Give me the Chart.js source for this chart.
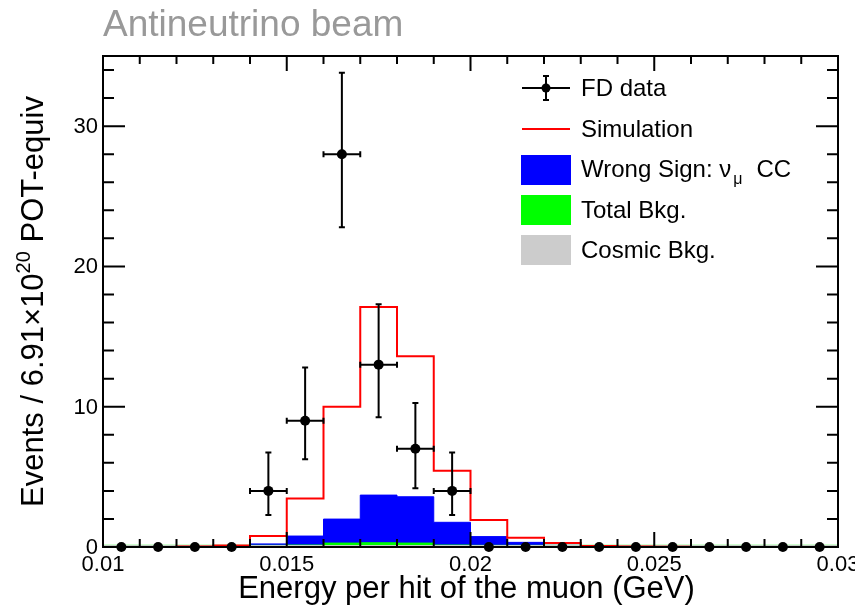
<!DOCTYPE html>
<html>
<head>
<meta charset="utf-8">
<title>Antineutrino beam - energy per hit of the muon</title>
<script src="https://cdn.jsdelivr.net/npm/chart.js@4.4.1/dist/chart.umd.min.js"></script>
<style>
  html, body { margin: 0; padding: 0; background: #ffffff; }
  #wrap { width: 855px; height: 607px; }
</style>
</head>
<body>
<div id="wrap"><canvas id="muonChart" width="855" height="607"></canvas></div>
<script>
// bins: 0.001 GeV wide, 0.01 -> 0.03
const binEdges = [0.010, 0.011, 0.012, 0.013, 0.014, 0.015, 0.016, 0.017, 0.018, 0.019, 0.020,
                  0.021, 0.022, 0.023, 0.024, 0.025, 0.026, 0.027, 0.028, 0.029, 0.030];
const binCenters = [0.0105, 0.0115, 0.0125, 0.0135, 0.0145, 0.0155, 0.0165, 0.0175, 0.0185, 0.0195,
                    0.0205, 0.0215, 0.0225, 0.0235, 0.0245, 0.0255, 0.0265, 0.0275, 0.0285, 0.0295];

// FD data with asymmetric errors
const fdData    = [0, 0, 0, 0, 4, 9, 28, 13, 7, 4, 0, 0, 0, 0, 0, 0, 0, 0, 0, 0];
const fdErrLow  = [0, 0, 0, 0, 1.72, 2.74, 5.2, 3.75, 2.82, 1.72, 0, 0, 0, 0, 0, 0, 0, 0, 0, 0];
const fdErrHigh = [0, 0, 0, 0, 2.74, 3.8, 5.8, 4.3, 3.27, 2.74, 0, 0, 0, 0, 0, 0, 0, 0, 0, 0];

// predictions per bin
const simulation = [0, 0, 0.03, 0.1, 0.78, 3.46, 10.0, 17.1, 13.6, 5.43, 1.92, 0.66, 0.28, 0.08, 0.03, 0.02, 0, 0, 0, 0];
const wrongSign  = [0, 0, 0, 0.03, 0.22, 0.78, 1.99, 3.7, 3.58, 1.76, 0.74, 0.33, 0.12, 0.04, 0.02, 0, 0, 0, 0, 0];
const totalBkg   = [0.12, 0.12, 0.12, 0.12, 0.12, 0.14, 0.28, 0.3, 0.28, 0.14, 0.12, 0.12, 0.12, 0.12, 0.12, 0.12, 0.12, 0.12, 0.12, 0.12];
const cosmicBkg  = [0.1, 0.1, 0.1, 0.1, 0.1, 0.1, 0.1, 0.1, 0.1, 0.1, 0.1, 0.1, 0.1, 0.1, 0.1, 0.1, 0.1, 0.1, 0.1, 0.1];

// axis ticks
const xTickValues = [0.01, 0.015, 0.02, 0.025, 0.03];
const xTickLabels = ["0.01", "0.015", "0.02", "0.025", "0.03"];
const yTickValues = [0, 10, 20, 30];
const yTickLabels = ["0", "10", "20", "30"];

const FONT = '"Liberation Sans", Arial, Helvetica, sans-serif';

function histPoints(values) {
  // one point per lower edge, plus the closing edge
  const pts = values.map((v, i) => ({ x: binEdges[i], y: v }));
  pts.push({ x: binEdges[binEdges.length - 1], y: values[values.length - 1] });
  return pts;
}

function histDataset(label, values, color, fill, width) {
  return {
    type: "line",
    label,
    data: histPoints(values),
    stepped: "before",
    borderColor: color,
    backgroundColor: color,
    borderWidth: width,
    fill: fill ? "origin" : false,
    pointRadius: 0,
    tension: 0
  };
}

const decorations = {
  id: "decorations",
  afterDatasetsDraw(chart) {
    const { ctx, chartArea: a, scales } = chart;
    const xs = scales.x, ys = scales.y;
    ctx.save();

    // data error bars
    ctx.strokeStyle = "#000";
    ctx.lineWidth = 2;
    fdData.forEach((v, i) => {
      if (v <= 0) return;
      const px = xs.getPixelForValue(binCenters[i]);
      const py = ys.getPixelForValue(v);
      const top = ys.getPixelForValue(v + fdErrHigh[i]);
      const bot = ys.getPixelForValue(v - fdErrLow[i]);
      const l = xs.getPixelForValue(binEdges[i]);
      const r = xs.getPixelForValue(binEdges[i + 1]);
      ctx.beginPath();
      ctx.moveTo(px, top); ctx.lineTo(px, bot);
      ctx.moveTo(px - 3, top); ctx.lineTo(px + 3, top);
      ctx.moveTo(px - 3, bot); ctx.lineTo(px + 3, bot);
      ctx.moveTo(l, py); ctx.lineTo(r, py);
      ctx.moveTo(l, py - 3); ctx.lineTo(l, py + 3);
      ctx.moveTo(r, py - 3); ctx.lineTo(r, py + 3);
      ctx.stroke();
    });

    // frame
    ctx.lineWidth = 2;
    ctx.strokeRect(a.left, a.top, a.right - a.left, a.bottom - a.top);

    // x ticks, top and bottom
    ctx.beginPath();
    for (let k = 0; k <= 20; k++) {
      const px = xs.getPixelForValue(0.01 + k * 0.001);
      const len = k % 5 === 0 ? 15 : 8;
      ctx.moveTo(px, a.bottom); ctx.lineTo(px, a.bottom - len);
      ctx.moveTo(px, a.top); ctx.lineTo(px, a.top + len);
    }
    // y ticks, left and right
    for (let k = 0; k <= 17; k++) {
      const py = ys.getPixelForValue(k * 2);
      const len = k % 5 === 0 ? 22 : 11;
      ctx.moveTo(a.left, py); ctx.lineTo(a.left + len, py);
      ctx.moveTo(a.right, py); ctx.lineTo(a.right - len, py);
    }
    ctx.stroke();

    // tick labels
    ctx.fillStyle = "#000";
    ctx.font = "22px " + FONT;
    ctx.textAlign = "center";
    ctx.textBaseline = "alphabetic";
    xTickValues.forEach((v, i) => {
      ctx.fillText(xTickLabels[i], xs.getPixelForValue(v), a.bottom + 24);
    });
    ctx.textAlign = "right";
    ctx.textBaseline = "middle";
    yTickValues.forEach((v, i) => {
      ctx.fillText(yTickLabels[i], a.left - 5, ys.getPixelForValue(v) + 1);
    });

    // x axis title
    ctx.font = "31px " + FONT;
    ctx.textAlign = "center";
    ctx.textBaseline = "alphabetic";
    ctx.fillText("Energy per hit of the muon (GeV)", (a.left + a.right) / 2 - 4, 598);

    // y axis title with superscript
    ctx.save();
    ctx.translate(43, (a.top + a.bottom) / 2);
    ctx.rotate(-Math.PI / 2);
    ctx.textAlign = "left";
    const p1 = "Events / 6.91\u00d710", sup = "20", p2 = " POT-equiv";
    ctx.font = "31px " + FONT;
    const w1 = ctx.measureText(p1).width, w3 = ctx.measureText(p2).width;
    ctx.font = "20px " + FONT;
    const w2 = ctx.measureText(sup).width;
    let cx = -(w1 + w2 + w3) / 2;
    ctx.font = "31px " + FONT;
    ctx.fillText(p1, cx, 0); cx += w1;
    ctx.font = "20px " + FONT;
    ctx.fillText(sup, cx, -13); cx += w2;
    ctx.font = "31px " + FONT;
    ctx.fillText(p2, cx, 0);
    ctx.restore();

    // title
    ctx.fillStyle = "#999999";
    ctx.font = "37px " + FONT;
    ctx.textAlign = "left";
    ctx.fillText("Antineutrino beam", a.left, 36);

    // legend
    ctx.fillStyle = "#000";
    ctx.strokeStyle = "#000";
    ctx.lineWidth = 2;
    ctx.beginPath();
    ctx.moveTo(522, 88); ctx.lineTo(570, 88);
    ctx.moveTo(546, 76); ctx.lineTo(546, 100);
    ctx.moveTo(543, 76); ctx.lineTo(549, 76);
    ctx.moveTo(543, 100); ctx.lineTo(549, 100);
    ctx.stroke();
    ctx.beginPath();
    ctx.arc(546, 88, 4.5, 0, Math.PI * 2);
    ctx.fill();

    ctx.strokeStyle = "#ff0000";
    ctx.beginPath();
    ctx.moveTo(522, 129); ctx.lineTo(570, 129);
    ctx.stroke();

    ctx.fillStyle = "#0000ff"; ctx.fillRect(521, 155, 50, 30);
    ctx.fillStyle = "#00ff00"; ctx.fillRect(521, 195, 50, 30);
    ctx.fillStyle = "#cccccc"; ctx.fillRect(521, 235, 50, 30);

    ctx.fillStyle = "#000";
    ctx.font = "24px " + FONT;
    ctx.fillText("FD data", 581, 96);
    ctx.fillText("Simulation", 581, 137);
    const ws = "Wrong Sign: \u03bd";
    ctx.fillText(ws, 581, 177);
    let lx = 581 + ctx.measureText(ws).width + 2;
    ctx.font = "16px " + FONT;
    ctx.fillText("\u03bc", lx, 184);
    lx += ctx.measureText("\u03bc").width + 14;
    ctx.font = "24px " + FONT;
    ctx.fillText("CC", lx, 177);
    ctx.fillText("Total Bkg.", 581, 218);
    ctx.fillText("Cosmic Bkg.", 581, 258);

    ctx.restore();
  }
};

const ctx = document.getElementById("muonChart").getContext("2d");
new Chart(ctx, {
  type: "line",
  data: {
    datasets: [
      {
        type: "line",
        label: "FD data",
        data: fdData.map((v, i) => ({ x: binCenters[i], y: v })),
        showLine: false,
        pointRadius: 5,
        pointBackgroundColor: "#000",
        pointBorderColor: "#000",
        pointBorderWidth: 0,
        clip: false
      },
      histDataset("Simulation", simulation, "#ff0000", false, 2),
      histDataset("Cosmic Bkg.", cosmicBkg, "#cccccc", true, 1),
      histDataset("Total Bkg.", totalBkg, "#00ff00", true, 1),
      histDataset("Wrong Sign", wrongSign, "#0000ff", true, 1)
    ]
  },
  options: {
    responsive: false,
    animation: false,
    layout: { padding: { left: 103, top: 56, right: 17, bottom: 60 } },
    plugins: {
      legend: { display: false },
      tooltip: { enabled: false },
      title: { display: false }
    },
    scales: {
      x: { type: "linear", min: 0.01, max: 0.03, display: false },
      y: { type: "linear", min: 0, max: 35, display: false }
    }
  },
  plugins: [decorations]
});
</script>
</body>
</html>
